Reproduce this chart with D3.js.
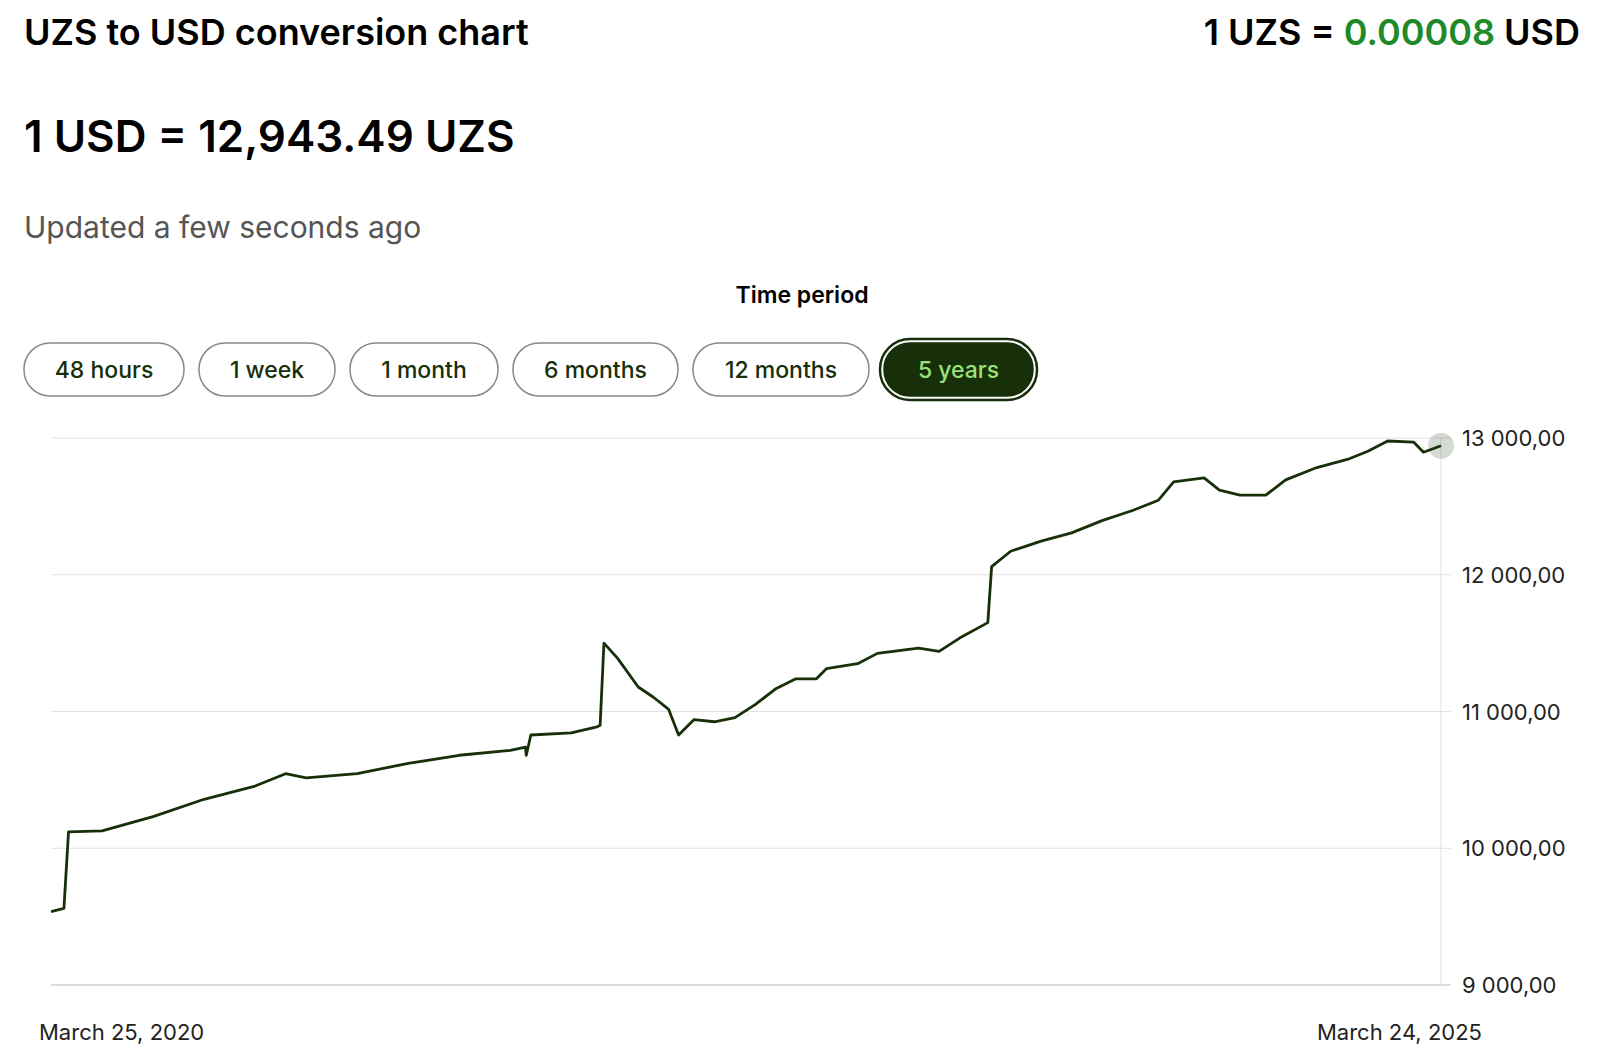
<!DOCTYPE html>
<html>
<head>
<meta charset="utf-8">
<script src="https://cdn.jsdelivr.net/npm/d3@7"></script>
<style>
  body { margin: 0; background: #fff; font-family: Inter, "Noto Sans", sans-serif; color: #111; }
</style>
</head>
<body>
<script>
const dates = ['2020-03-25','2020-04-11','2020-04-17','2020-05-31','2020-08-06','2020-10-12','2020-12-18',
  '2021-01-27','2021-02-23','2021-05-01','2021-07-07','2021-09-12','2021-11-18','2021-12-08','2021-12-09',
  '2021-12-15','2022-02-06','2022-03-12','2022-03-16','2022-03-21','2022-04-08','2022-05-05','2022-05-25',
  '2022-06-14','2022-06-27','2022-07-17','2022-08-13','2022-09-09','2022-10-06','2022-11-01','2022-11-28',
  '2022-12-25','2023-01-07','2023-02-17','2023-03-15','2023-05-08','2023-06-04','2023-07-01','2023-08-07',
  '2023-08-12','2023-09-06','2023-10-16','2023-11-25','2024-01-04','2024-02-13','2024-03-18','2024-04-07',
  '2024-05-17','2024-06-06','2024-07-03','2024-08-06','2024-09-01','2024-10-12','2024-11-21','2024-12-18',
  '2025-01-13','2025-02-16','2025-03-01','2025-03-24']
const rates = [9537,9560,10120,10127,10231,10358,10455,
  10545,10515,10545,10620,10680,10716,10740,10680,
  10828,10843,10888,10900,11500,11388,11179,11104,
  11015,10828,10940,10925,10955,11052,11164,11239,
  11239,11313,11350,11425,11463,11440,11537,11650,
  12060,12172,12246,12306,12396,12470,12545,12679,
  12709,12619,12582,12582,12694,12784,12843,12903,
  12978,12970,12896,12943]
const yTicks = [9000,10000,11000,12000,13000]
const periods = ['48 hours','1 week','1 month','6 months','12 months','5 years']
const active = '5 years'

const parse = d3.timeParse('%Y-%m-%d')
const data = dates.map((d, i) => ({ date: parse(d), value: rates[i] }))

const svg = d3.select('body').append('svg').attr('width', 1600).attr('height', 1054)

// header
svg.append('text').attr('x', 24).attr('y', 45).attr('font-size', 36).attr('font-weight', 600)
  .text('UZS to USD conversion chart')
const rt = svg.append('text').attr('x', 1580).attr('y', 45).attr('font-size', 36).attr('font-weight', 600)
  .attr('text-anchor', 'end')
rt.append('tspan').text('1 UZS = ')
rt.append('tspan').attr('fill', '#1f8a2a').text('0.00008')
rt.append('tspan').text(' USD')
svg.append('text').attr('x', 24).attr('y', 152).attr('font-size', 44).attr('font-weight', 600)
  .text('1 USD = 12,943.49 UZS')
svg.append('text').attr('x', 24).attr('y', 238).attr('font-size', 30).attr('fill', '#555')
  .text('Updated a few seconds ago')
svg.append('text').attr('x', 802).attr('y', 303).attr('font-size', 23).attr('font-weight', 600)
  .attr('text-anchor', 'middle').text('Time period')

// period buttons
const btnW = [160, 136, 148, 165, 176, 149]
let bx = 24
periods.forEach((p, i) => {
  const g = svg.append('g').attr('transform', `translate(${bx},343)`)
  const on = p === active
  if (on) g.append('rect').attr('x', -4).attr('y', -4).attr('width', btnW[i] + 8).attr('height', 61)
    .attr('rx', 30).attr('fill', 'none').attr('stroke', '#17300a').attr('stroke-width', 2.5)
  g.append('rect').attr('width', btnW[i]).attr('height', 53).attr('rx', 26)
    .attr('fill', on ? '#17300a' : '#fff').attr('stroke', on ? '#17300a' : '#888').attr('stroke-width', 1.5)
  g.append('text').attr('x', btnW[i] / 2).attr('y', 35).attr('text-anchor', 'middle')
    .attr('font-size', 23).attr('font-weight', 500).attr('fill', on ? '#9be27a' : '#17300a').text(p)
  bx += btnW[i] + 15
})

// chart
const x = d3.scaleTime().domain(d3.extent(data, d => d.date)).range([51, 1441])
const y = d3.scaleLinear().domain([9000, 13000]).range([985, 438])

svg.append('g').selectAll('line').data(yTicks).enter().append('line')
  .attr('x1', 51).attr('x2', 1451).attr('y1', d => y(d)).attr('y2', d => y(d))
  .attr('stroke', d => d === 9000 ? '#bbb' : '#e2e2e2').attr('stroke-width', 1.2)
svg.append('line').attr('x1', 1441).attr('x2', 1441).attr('y1', 438).attr('y2', 985)
  .attr('stroke', '#e2e2e2')

const fmt = v => d3.format(',')(v).replace(',', ' ') + ',00'
svg.append('g').selectAll('text').data(yTicks).enter().append('text')
  .attr('x', 1462).attr('y', d => y(d) + 8).attr('font-size', 22).attr('fill', '#222')
  .text(fmt)

svg.append('path').datum(data)
  .attr('fill', 'none').attr('stroke', '#17300a').attr('stroke-width', 2.8)
  .attr('stroke-linejoin', 'round')
  .attr('d', d3.line().x(d => x(d.date)).y(d => y(d.value)))

const last = data[data.length - 1]
svg.append('circle').attr('cx', x(last.date)).attr('cy', y(last.value)).attr('r', 13)
  .attr('fill', '#17300a').attr('opacity', 0.18)

svg.append('text').attr('x', 39).attr('y', 1040).attr('font-size', 22).attr('fill', '#222').text('March 25, 2020')
svg.append('text').attr('x', 1482).attr('y', 1040).attr('font-size', 22).attr('fill', '#222')
  .attr('text-anchor', 'end').text('March 24, 2025')
</script>
</body>
</html>
